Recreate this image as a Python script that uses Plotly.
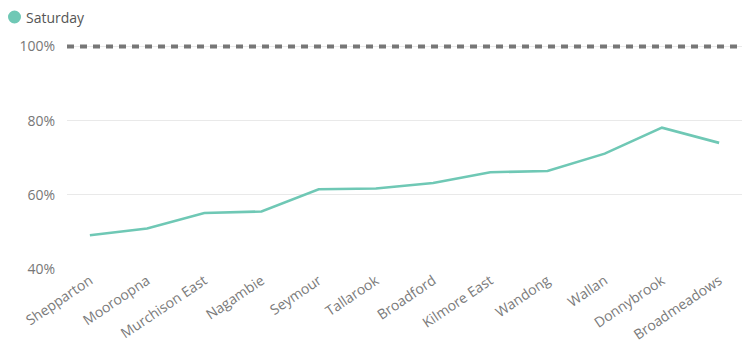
import plotly.graph_objects as go

stations = ["Shepparton", "Mooroopna", "Murchison East", "Nagambie", "Seymour",
            "Tallarook", "Broadford", "Kilmore East", "Wandong", "Wallan",
            "Donnybrook", "Broadmeadows"]
saturday = [0.491, 0.509, 0.551, 0.555, 0.615, 0.617, 0.632, 0.661, 0.664,
            0.711, 0.781, 0.740]
series_name = "Saturday"
target = 1.0
y_ticks = [0.4, 0.6, 0.8, 1.0]
teal = "#6FC8B5"

W, H = 752, 351
L, R, T, B = 67, 10, 39, 82
pw, ph = W - L - R, H - T - B

def px_x(p):
    return (p - L) / pw

def px_y(p):
    return (H - B - p) / ph

fig = go.Figure()
fig.add_trace(go.Scatter(
    x=list(range(len(stations))), y=saturday, mode="lines", name=series_name,
    line=dict(color=teal, width=2.6), showlegend=False,
))
fig.add_shape(type="line", xref="paper", yref="y", x0=0, x1=1, y0=target, y1=target,
              line=dict(color="#777777", width=4, dash="7px,6px"), layer="above")
# legend swatch + label (top-left)
fig.add_shape(type="circle", xref="paper", yref="paper",
              x0=px_x(8), x1=px_x(21), y0=px_y(23.5), y1=px_y(10.5),
              fillcolor=teal, line=dict(width=0))
fig.add_annotation(text=series_name, xref="paper", yref="paper", x=px_x(24), y=px_y(17),
                   xanchor="left", yanchor="middle", showarrow=False,
                   font=dict(size=14, color="#555555"))

fig.update_layout(
    width=W, height=H,
    margin=dict(l=L, r=R, t=T, b=B, autoexpand=False),
    paper_bgcolor="white", plot_bgcolor="white",
    font=dict(family="Open Sans, Segoe UI, sans-serif", color="#777777", size=13),
    showlegend=False,
    xaxis=dict(tickmode="array", tickvals=list(range(len(stations))), ticktext=stations,
               range=[-0.4, 11.4], showgrid=False, zeroline=False, tickangle=-34,
               tickfont=dict(size=14, color="#7A7A7A"), showline=False,
               ticklabelstandoff=0),
    yaxis=dict(range=[0.4, 1.02], tickvals=y_ticks, tickformat=".0%",
               showgrid=True, gridcolor="#E9E9E9", gridwidth=1, zeroline=False,
               tickfont=dict(size=14, color="#777777"), ticklabelstandoff=11),
)
fig.write_html("out.html")
